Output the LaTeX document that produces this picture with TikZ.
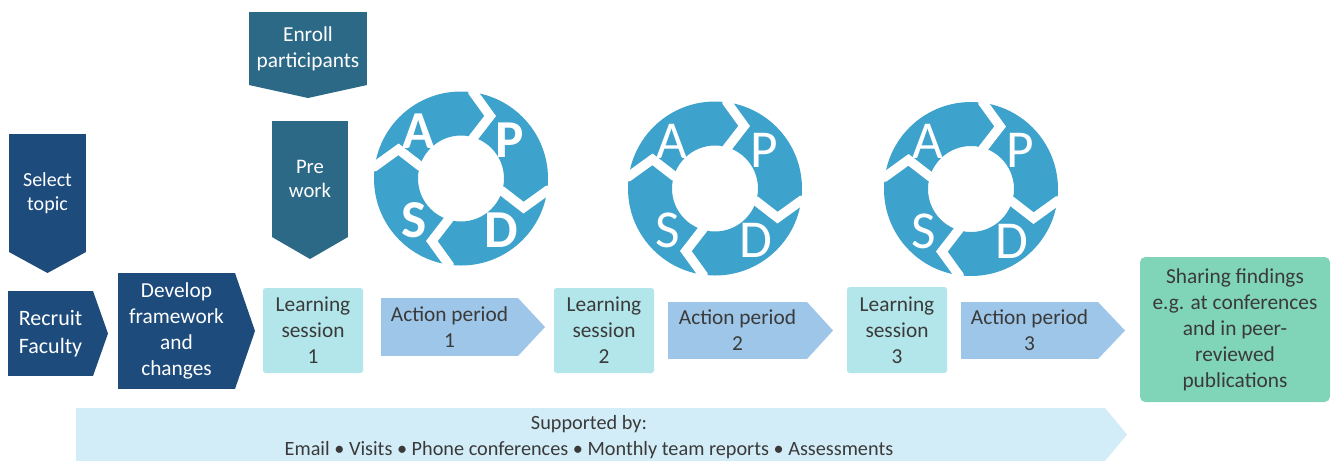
\documentclass[tikz,border=0pt]{standalone}
\usepackage{fontspec}
\setmainfont{Carlito}
\usetikzlibrary{calc}
\definecolor{navybox}{HTML}{1D4B7C}
\definecolor{tealbox}{HTML}{2C6987}
\definecolor{lsfill}{HTML}{B3E6EA}
\definecolor{apfill}{HTML}{9DC6E8}
\definecolor{shfill}{HTML}{80D4B8}
\definecolor{supfill}{HTML}{D3EDF8}
\definecolor{cycfill}{HTML}{3DA2CC}
\definecolor{txtgray}{HTML}{3A3A3A}
\begin{document}
\begin{tikzpicture}[x=0.75pt,y=-0.75pt,
  wh/.style 2 args={minimum width=#1*0.75pt, minimum height=#2*0.75pt},
  box/.style={rectangle, inner sep=0pt, outer sep=0pt, align=center, font=\fontsize{16}{19.5}\selectfont},
  darkbox/.style={box, fill=navybox, text=white},
  tbox/.style={box, fill=tealbox, text=white},
  lsbox/.style={box, fill=lsfill, text=txtgray, rounded corners=2pt},
  apbox/.style={box, fill=apfill, text=txtgray},
  shbox/.style={box, fill=shfill, text=txtgray, rounded corners=4pt},
  supbox/.style={box, fill=supfill},
  suptext/.style={inner sep=0pt, align=center, text=txtgray, font=\fontsize{15.2}{19.5}\selectfont},
  ring/.style={fill=cycfill, even odd rule},
  gapcut/.style={draw=white, line width=7pt, line join=miter, miter limit=20},
  cycletter/.style={text=white, inner sep=0pt},
]
\useasboundingbox (0,0) rectangle (1336,462);
\fill[white] (0,0) rectangle (1336,462);

% ---- left column and top boxes
\node[darkbox, wh={77}{118}, font=\fontsize{15}{17.5}\selectfont] (sel) at (47.5,193) {Select\\topic};
\fill[navybox] (sel.south west) -- (sel.south east) -- ($(sel.south)+(0,21)$) -- cycle;

\node[tbox, wh={118}{73}] (enr) at (308,48.5) {Enroll\\participants};
\fill[tealbox] (enr.south west) -- (enr.south east) -- ($(enr.south)+(0,13)$) -- cycle;

\node[tbox, wh={76}{116}, font=\fontsize{15.5}{18}\selectfont] (pre) at (310,179) {Pre\\work};
\fill[tealbox] (pre.south west) -- (pre.south east) -- ($(pre.south)+(0,22)$) -- cycle;

\node[darkbox, wh={85}{85}, font=\fontsize{16.5}{21}\selectfont] (rec) at (50.5,333.5) {Recruit\\Faculty};
\fill[navybox] (rec.north east) -- ($(rec.east)+(15,0)$) -- (rec.south east) -- cycle;

\node[darkbox, wh={117}{116}] (dev) at (176.5,331) {Develop\\framework\\and\\changes};
\fill[navybox] (dev.north east) -- ($(dev.east)+(20,0)$) -- (dev.south east) -- cycle;

% ---- learning sessions and action periods
\node[lsbox, wh={100}{85}] (ls1) at (313,330.5) {Learning\\session\\1};
\node[apbox, wh={137}{58}] (ap1) at (449.5,327) {Action period\\1};
\fill[apfill] (ap1.north east) -- ($(ap1.east)+(27,0)$) -- (ap1.south east) -- cycle;

\node[lsbox, wh={100}{85}] (ls2) at (604,330.5) {Learning\\session\\2};
\node[apbox, wh={139}{57}] (ap2) at (737.5,330.5) {Action period\\2};
\fill[apfill] (ap2.north east) -- ($(ap2.east)+(26,0)$) -- (ap2.south east) -- cycle;

\node[lsbox, wh={100}{86}] (ls3) at (897,330) {Learning\\session\\3};
\node[apbox, wh={137}{57}] (ap3) at (1029.5,330.5) {Action period\\3};
\fill[apfill] (ap3.north east) -- ($(ap3.east)+(27,0)$) -- (ap3.south east) -- cycle;

\node[shbox, wh={190}{145}] (shr) at (1235,329.5) {Sharing findings\\e.g. at conferences\\and in peer-\\reviewed\\publications};

% ---- supported-by bar
\node[supbox, wh={1029}{53}] (sup) at (590.5,434.5) {};
\fill[supfill] (sup.north east) -- ($(sup.east)+(22,0)$) -- (sup.south east) -- cycle;
\node[suptext] (supt) at (589,437) {Supported by:\\Email • Visits • Phone conferences • Monthly team reports • Assessments};

% ---- PDSA cycles
\foreach \cx/\cy/\bf [count=\i] in {461/178.5/\bfseries, 715/188.5/, 971/189/} {
  \begin{scope}[shift={(\cx,\cy)}, yscale=-1]
    \fill[ring] (0,0) circle[radius=87] (0,0) circle[radius=43];
    \foreach \G in {80,-10,-100,170} {
      \draw[gapcut] (\G+2.5:93) -- (\G+2:87) -- (\G-15:69) -- (\G-7:43) -- (\G-8:38);
    }
    \node[cycletter, font=\fontsize{40}{40}\selectfont\bf] (a\i) at (132:64) {A};
    \node[cycletter, font=\fontsize{40}{40}\selectfont\bf] (p\i) at (38:62) {P};
    \node[cycletter, font=\fontsize{40}{40}\selectfont\bf] (d\i) at (-52:66) {D};
    \node[cycletter, font=\fontsize{40}{40}\selectfont\bf] (s\i) at (-138:63) {S};
  \end{scope}
}
\end{tikzpicture}
\end{document}
